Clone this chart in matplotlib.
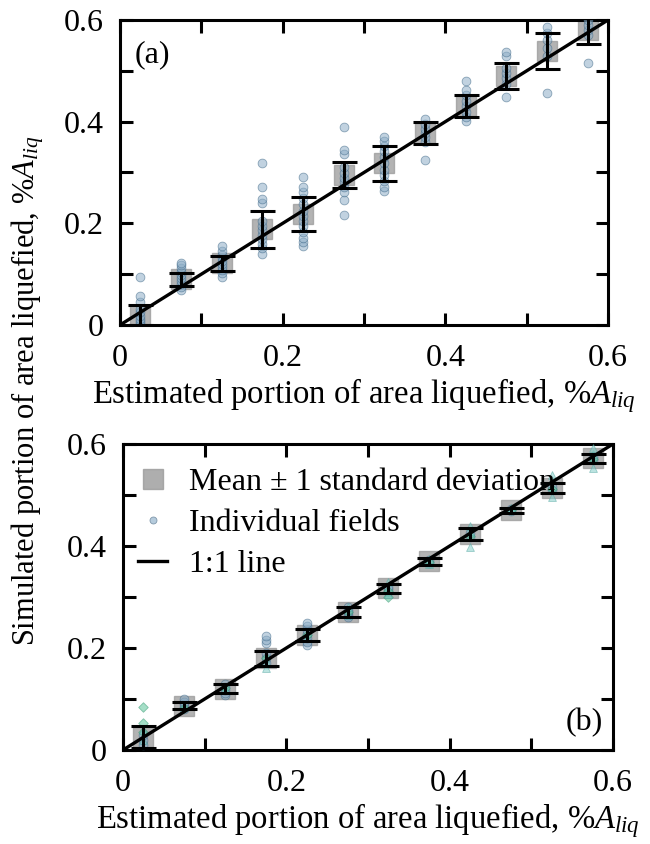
"""Simulated vs. estimated portion of area liquefied, two panels (a) and (b)."""
import matplotlib
matplotlib.use("Agg")
import matplotlib.pyplot as plt
from matplotlib.lines import Line2D
from matplotlib.ticker import MultipleLocator, FuncFormatter

plt.rcParams["font.family"] = "serif"
plt.rcParams["font.serif"] = ["Liberation Serif", "DejaVu Serif"]
plt.rcParams["mathtext.fontset"] = "custom"
plt.rcParams["mathtext.rm"] = "Liberation Serif"
plt.rcParams["mathtext.it"] = "Liberation Serif:italic"

# --- data ---
BINS = [0.025, 0.075, 0.125, 0.175, 0.225, 0.275, 0.325, 0.375, 0.425, 0.475, 0.525, 0.575]

# panel (a)
MEAN_A = [0.020, 0.090, 0.121, 0.188, 0.218, 0.295, 0.318, 0.378, 0.431, 0.490, 0.539, 0.580]
STD_A = [0.020, 0.013, 0.015, 0.037, 0.034, 0.026, 0.035, 0.022, 0.022, 0.026, 0.035, 0.028]
FIELDS_A = [
    [0.0, 0.003, 0.008, 0.012, 0.018, 0.025, 0.032, 0.045, 0.058, 0.094],
    [0.069, 0.075, 0.080, 0.086, 0.092, 0.098, 0.105, 0.112, 0.118, 0.122],
    [0.094, 0.102, 0.108, 0.114, 0.120, 0.125, 0.131, 0.138, 0.145, 0.155],
    [0.140, 0.152, 0.160, 0.170, 0.178, 0.186, 0.195, 0.205, 0.240, 0.248, 0.272, 0.319],
    [0.155, 0.163, 0.172, 0.182, 0.195, 0.205, 0.215, 0.225, 0.238, 0.250, 0.262, 0.272, 0.291],
    [0.216, 0.245, 0.262, 0.272, 0.282, 0.290, 0.300, 0.310, 0.337, 0.344, 0.390],
    [0.264, 0.272, 0.283, 0.295, 0.305, 0.318, 0.330, 0.342, 0.352, 0.362, 0.370],
    [0.325, 0.360, 0.370, 0.378, 0.386, 0.395, 0.405],
    [0.402, 0.410, 0.420, 0.430, 0.440, 0.452, 0.462, 0.480],
    [0.449, 0.475, 0.485, 0.495, 0.505, 0.530, 0.537],
    [0.457, 0.530, 0.545, 0.560, 0.575, 0.586],
    [0.516, 0.570, 0.580, 0.590, 0.600],
]

# panel (b)
MEAN_B = [0.025, 0.087, 0.120, 0.180, 0.225, 0.270, 0.317, 0.370, 0.424, 0.470, 0.514, 0.572]
STD_B = [0.022, 0.007, 0.009, 0.015, 0.012, 0.010, 0.009, 0.007, 0.012, 0.005, 0.010, 0.009]
CIRCLES_B = [
    [0.010, 0.020, 0.030],
    [0.080, 0.085, 0.090, 0.095, 0.100],
    [0.108, 0.112, 0.118, 0.124, 0.130],
    [0.170, 0.180, 0.190, 0.210, 0.216, 0.224],
    [0.205, 0.212, 0.220, 0.228, 0.236, 0.243, 0.250],
    [0.260, 0.265, 0.270, 0.275, 0.280],
    [0.310, 0.315, 0.320],
    [0.366, 0.372],
    [0.418, 0.426],
    [0.468, 0.472],
    [0.510, 0.516],
    [0.568, 0.575],
]
DIAMONDS_B = [
    [0.035, 0.053, 0.084],
    [0.082], [0.122], [0.180], [0.225], [0.270],
    [0.300, 0.312], [0.368], [0.420], [0.470], [0.512], [0.570],
]
TRIANGLES_B = [
    [0.020, 0.040],
    [0.085], [0.120], [0.161, 0.175], [0.220], [0.265, 0.280],
    [0.305, 0.330], [0.365, 0.375], [0.398, 0.430, 0.440],
    [0.470, 0.475], [0.496, 0.530, 0.540], [0.553, 0.580, 0.592],
]

XLABEL = r"Estimated portion of area liquefied, $\mathit{\%A_{liq}}$"
YLABEL = r"Simulated portion of area liquefied, $\mathit{\%A_{liq}}$"

FS = 23
CIRCLE_FC = "#8eaec7"
CIRCLE_EC = "#3f6888"


def style_axes(ax):
    ax.set_xlim(0, 0.6)
    ax.set_ylim(0, 0.6)
    fmt = FuncFormatter(lambda v, _: "0" if abs(v) < 1e-9 else f"{v:.1f}")
    for axis in (ax.xaxis, ax.yaxis):
        axis.set_major_locator(MultipleLocator(0.2))
        axis.set_minor_locator(MultipleLocator(0.1))
        axis.set_major_formatter(fmt)
    ax.tick_params(which="both", direction="in", top=True, right=True,
                   length=9, width=2.2, labelsize=FS)
    ax.tick_params(axis="x", which="major", pad=14)
    ax.tick_params(axis="y", which="major", pad=12)
    for s in ax.spines.values():
        s.set_linewidth(2.2)
    ax.set_xlabel(XLABEL, fontsize=23.5, labelpad=2)


def draw_means(ax, means, stds):
    ax.plot(BINS, means, "s", ms=14, color="#9a9a9a", alpha=0.75, zorder=2)
    ax.errorbar(BINS, means, yerr=stds, fmt="none", ecolor="black",
                elinewidth=2.2, capsize=9, capthick=2.2, zorder=5)
    ax.plot([0, 0.6], [0, 0.6], color="black", lw=2.4, zorder=4)


def scatter_groups(ax, groups, marker, fc, ec, size):
    for x, vals in zip(BINS, groups):
        ax.scatter([x] * len(vals), vals, s=size, marker=marker, facecolor=fc,
                   edgecolor=ec, linewidth=0.6, alpha=0.55, zorder=3)


fig = plt.figure(figsize=(6.5, 8.44), dpi=100)
ax_a = fig.add_axes([120 / 650, 1 - 325 / 844, 488 / 650, 305 / 844])
ax_b = fig.add_axes([123 / 650, 1 - 750 / 844, 490 / 650, 306 / 844])

# (a)
scatter_groups(ax_a, FIELDS_A, "o", CIRCLE_FC, CIRCLE_EC, 40)
draw_means(ax_a, MEAN_A, STD_A)
style_axes(ax_a)
ax_a.text(0.03, 0.885, "(a)", transform=ax_a.transAxes, fontsize=FS,
          ha="left", va="center")

# (b)
scatter_groups(ax_b, CIRCLES_B, "o", CIRCLE_FC, CIRCLE_EC, 40)
scatter_groups(ax_b, DIAMONDS_B, "D", "#5cc49a", "#3a9a74", 24)
scatter_groups(ax_b, TRIANGLES_B, "^", "#86cfca", "#55a8a2", 32)
draw_means(ax_b, MEAN_B, STD_B)
style_axes(ax_b)
ax_b.text(0.98, 0.09, "(b)", transform=ax_b.transAxes, fontsize=FS,
          ha="right", va="center")

handles = [
    Line2D([], [], ls="none", marker="s", ms=14, color="#9a9a9a", alpha=0.8),
    Line2D([], [], ls="none", marker="o", ms=5, markerfacecolor="#b5cbdc",
           markeredgecolor="#7f97ab", markeredgewidth=0.6),
    Line2D([], [], color="black", lw=2.4),
]
labels = ["Mean \u00b1 1 standard deviation", "Individual fields", "1:1 line"]
ax_b.legend(handles, labels, loc="upper left", bbox_to_anchor=(-0.018, 1.0),
            frameon=False, fontsize=FS, handlelength=0.9, handletextpad=0.7,
            labelspacing=0.36, borderaxespad=0.45, borderpad=0.3)

fig.text(28 / 650, 1 - 391 / 844, YLABEL, rotation=90, fontsize=22,
         ha="center", va="center")

fig.savefig("out.png", dpi=100)
